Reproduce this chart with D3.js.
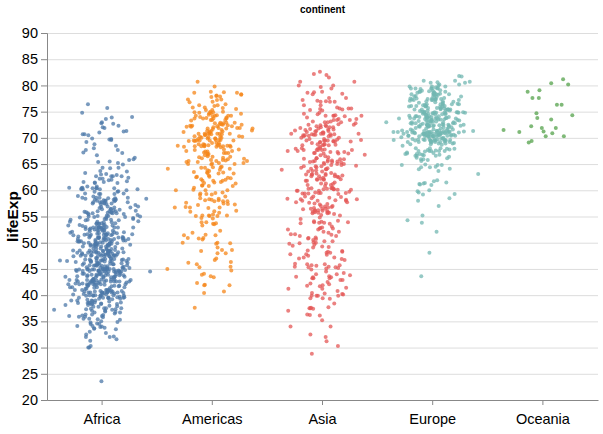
<!DOCTYPE html>
<html>
<head>
<meta charset="utf-8">
<script src="https://cdn.jsdelivr.net/npm/d3@7"></script>
<style>
  body { margin: 0; background: #fff; }
  svg { font-family: "Liberation Sans", Arial, Helvetica, sans-serif; }
</style>
</head>
<body>
<div id="chart"></div>
<script>
// life expectancy by continent (one value per country-year, 12 years per country)
const continents = ["Africa", "Americas", "Asia", "Europe", "Oceania"];
const yTicks = [20, 25, 30, 35, 40, 45, 50, 55, 60, 65, 70, 75, 80, 85, 90];

const africa = [
  43.1,45.7,48.3,51.4,54.5,58.0,61.4,65.8,67.7,69.2,71.0,72.3,
  30.0,32.0,34.0,36.0,37.9,39.5,39.9,39.9,40.6,41.0,41.0,42.7,
  38.2,40.4,42.6,44.9,47.0,49.2,50.9,52.3,53.9,54.8,54.4,56.7,
  47.6,49.6,51.5,53.3,56.0,59.3,61.5,63.6,62.7,52.6,46.6,50.7,
  32.0,34.9,37.8,40.7,43.6,46.1,48.1,49.6,50.3,50.3,50.7,52.3,
  39.0,40.5,42.0,43.5,44.1,45.9,47.5,48.2,44.7,45.3,47.4,49.6,
  38.5,40.4,42.6,44.8,47.0,49.4,53.0,55.0,54.3,52.2,49.9,50.4,
  35.5,37.5,39.5,41.5,43.5,46.8,48.3,50.5,49.4,46.1,43.3,44.7,
  38.1,39.9,41.7,43.6,45.6,47.4,49.5,51.1,51.7,51.6,50.5,50.7,
  40.7,42.5,44.5,46.5,48.9,50.9,52.9,54.9,57.9,60.7,63.0,65.2,
  39.1,40.7,42.1,44.1,45.9,47.8,47.8,47.4,45.5,42.6,45.0,46.5,
  42.1,45.1,48.4,50.3,53.0,55.6,57.5,57.5,56.4,53.0,53.0,55.3,
  40.5,42.5,44.9,47.4,49.8,52.4,54.0,54.7,52.0,48.0,46.8,48.3,
  34.8,37.3,39.7,42.1,44.4,46.5,48.8,50.0,51.6,53.2,53.4,54.8,
  41.9,44.4,47.0,49.3,51.1,53.3,56.0,59.8,63.7,67.2,69.8,71.3,
  34.5,36.0,37.5,39.0,40.5,42.0,43.7,45.7,47.5,48.2,49.3,51.6,
  35.9,38.0,40.2,42.2,44.5,44.5,43.9,46.5,50.0,53.4,55.2,58.0,
  34.1,36.7,40.1,42.1,43.5,44.5,44.9,46.7,48.1,49.4,50.7,52.9,
  37.0,39.0,40.5,44.6,48.7,52.8,56.6,60.2,61.4,60.5,56.8,56.7,
  30.0,32.1,33.9,35.9,38.3,41.8,45.6,49.3,52.6,55.9,58.0,59.4,
  43.1,44.8,46.5,48.1,49.9,51.8,53.7,55.7,57.5,58.6,58.5,60.0,
  33.6,34.6,35.8,37.2,38.8,40.8,42.9,45.2,48.6,51.5,53.7,56.0,
  32.5,33.5,34.5,35.5,36.5,37.5,39.3,41.2,43.3,44.9,45.5,46.4,
  42.3,44.7,47.9,50.7,53.6,56.2,58.8,59.3,59.3,54.4,51.0,54.1,
  42.1,45.0,47.7,48.5,49.8,52.5,55.1,57.2,59.7,55.6,44.6,42.6,
  38.5,39.5,40.5,41.5,42.6,43.8,44.9,46.0,40.8,42.2,43.8,45.7,
  42.7,45.3,48.4,50.2,52.8,57.4,62.2,66.2,68.8,70.5,72.7,74.0,
  36.7,38.9,40.8,42.9,44.9,46.9,48.9,50.9,52.9,55.0,57.3,59.4,
  36.3,37.2,38.4,39.5,41.8,43.8,45.6,47.5,49.4,47.5,45.0,48.3,
  33.7,35.3,36.9,38.5,40.0,41.7,43.9,46.4,48.4,49.9,51.8,54.5,
  40.5,42.3,44.2,46.3,48.4,50.9,53.6,56.1,58.3,60.4,62.2,64.2,
  51.0,58.1,60.2,61.6,62.9,64.9,66.7,68.0,69.7,70.7,72.0,72.8,
  42.9,45.4,47.9,50.3,52.9,55.7,59.7,62.7,65.4,67.7,69.6,71.2,
  31.3,33.8,36.2,38.1,40.3,42.5,42.8,42.9,44.3,46.3,44.0,42.1,
  41.7,45.2,48.4,51.2,53.9,56.3,58.6,60.4,62.0,58.9,51.5,52.9,
  37.4,38.6,39.5,40.1,40.5,41.3,42.6,44.6,47.4,51.3,54.5,56.9,
  36.3,37.8,39.4,41.0,42.8,44.5,45.8,46.9,47.5,47.5,46.6,46.9,
  52.7,55.8,57.7,60.5,64.3,67.1,69.9,71.9,73.6,74.8,75.7,76.4,
  40.0,41.5,43.0,44.1,44.6,45.0,46.2,44.0,23.6,36.1,43.4,46.2,
  46.5,48.9,51.9,54.4,56.5,58.6,60.4,61.7,62.7,63.3,64.3,65.5,
  37.3,39.3,41.5,43.6,44.6,48.9,52.4,55.8,58.2,60.2,61.6,63.1,
  30.3,31.6,32.8,34.1,35.4,36.8,38.4,40.0,38.3,39.9,41.0,42.6,
  33.0,35.0,37.0,39.0,41.0,42.0,43.0,44.5,39.7,43.8,45.9,48.2,
  45.0,48.0,50.0,51.9,53.7,55.5,58.2,60.7,61.9,60.2,53.4,49.3,
  38.6,39.6,40.9,42.9,45.0,47.8,50.3,52.0,53.6,55.4,56.4,58.6,
  41.4,43.4,45.0,46.6,49.6,52.5,55.6,57.7,58.5,54.3,43.9,39.6,
  41.2,43.0,44.2,45.8,47.6,49.9,51.0,51.5,50.4,48.5,49.7,52.5,
  38.6,40.8,43.9,46.8,49.8,52.9,54.9,56.9,58.1,58.4,57.6,58.4,
  44.6,47.1,49.6,52.1,55.1,57.7,62.7,65.9,68.5,70.7,73.0,73.9,
  40.0,42.6,45.3,48.1,51.0,50.4,49.8,51.5,48.8,44.6,47.8,51.5,
  42.0,44.1,46.0,47.8,50.1,51.4,51.8,50.8,46.1,40.2,39.2,42.4,
  48.5,50.5,52.4,54.0,55.6,57.7,60.4,62.4,60.4,46.8,40.0,43.5
];

const americas = [
  62.5,64.4,65.1,65.6,67.1,68.5,69.9,70.8,71.9,73.3,74.3,75.3,
  40.4,41.9,43.4,45.0,46.7,50.0,53.9,57.3,60.0,62.1,63.9,65.6,
  50.9,53.3,55.7,57.6,59.5,61.5,63.3,65.2,67.1,69.4,71.0,72.4,
  68.8,70.0,71.3,72.1,72.9,74.2,75.8,76.9,78.0,78.6,79.8,80.7,
  54.7,56.1,57.9,60.5,63.4,67.1,70.6,72.5,74.1,75.8,77.9,78.6,
  50.6,55.1,57.9,60.0,61.6,63.8,66.7,67.8,68.4,70.3,71.7,72.9,
  57.2,60.0,62.8,65.4,67.8,70.8,73.4,74.8,75.7,77.3,78.1,78.8,
  59.4,62.3,65.2,68.3,70.7,72.6,73.7,74.2,74.4,76.2,77.2,78.3,
  45.9,49.8,53.5,56.8,59.6,61.8,63.7,66.0,68.5,70.0,70.8,72.2,
  48.4,51.4,54.6,56.7,58.8,61.3,64.3,67.2,69.6,72.3,74.2,75.0,
  45.3,48.6,52.3,55.9,58.2,56.7,56.6,63.2,66.8,69.5,70.7,71.9,
  42.0,44.1,47.0,50.0,53.7,56.0,58.1,60.8,63.4,66.3,69.0,70.3,
  37.6,40.7,43.6,46.2,48.0,49.9,51.5,53.6,55.1,56.7,58.1,60.9,
  41.9,44.7,48.0,50.9,53.9,57.4,60.9,64.5,66.4,67.7,68.6,70.2,
  58.5,62.6,65.6,67.5,69.0,70.1,71.2,71.8,71.8,72.3,72.0,72.6,
  50.8,55.2,58.3,60.1,62.4,65.0,67.4,69.5,71.5,73.7,74.9,76.2,
  42.3,45.4,48.6,51.9,55.2,57.5,59.3,62.0,65.8,68.4,70.8,72.9,
  55.2,59.2,61.8,64.1,66.2,68.7,70.5,72.5,73.7,74.0,74.7,75.5,
  62.6,63.2,64.4,65.0,65.8,66.4,66.9,67.4,68.2,69.4,70.8,71.8,
  43.9,46.3,49.1,51.4,55.4,58.4,61.4,64.1,66.5,68.4,69.9,71.4,
  64.3,68.5,69.6,71.1,72.2,73.4,73.8,74.6,73.9,74.9,77.8,78.7,
  59.1,61.8,64.9,65.4,65.9,68.3,68.8,69.6,69.9,69.5,69.0,69.8,
  68.4,69.5,70.2,70.8,71.3,73.4,74.7,75.0,76.1,76.8,77.3,78.2,
  66.1,67.0,68.3,68.5,68.7,69.5,70.8,71.9,72.8,74.2,75.3,76.4,
  55.1,57.9,60.8,63.5,65.7,67.5,68.6,70.2,71.2,72.1,72.8,73.7
];

const asia = [
  28.8,30.3,32.0,34.0,36.1,38.4,39.9,40.8,41.7,41.8,42.1,43.8,
  50.9,53.8,56.9,59.9,63.3,65.6,69.1,70.8,72.6,73.9,74.8,75.6,
  37.5,39.3,41.2,43.5,45.3,46.9,50.0,52.8,56.0,59.4,62.0,64.1,
  39.4,41.4,43.4,45.4,40.3,31.2,51.0,53.9,55.8,56.5,56.8,59.7,
  44.0,50.5,44.5,58.4,63.1,64.0,65.5,67.3,68.7,70.4,72.0,73.0,
  61.0,64.8,67.7,70.0,72.0,73.6,75.5,76.2,77.6,80.0,81.5,82.2,
  37.4,40.2,43.6,47.2,50.7,54.2,56.6,58.6,60.2,61.8,62.9,64.7,
  37.5,39.9,42.5,46.0,49.2,52.7,56.2,60.1,62.7,66.0,68.6,70.7,
  44.9,47.2,49.3,52.5,55.2,57.7,59.6,63.0,65.7,68.0,69.5,71.0,
  45.3,48.4,51.5,54.5,57.0,60.4,62.0,65.0,59.5,58.8,57.0,59.5,
  65.4,67.8,69.4,70.8,71.6,73.1,74.5,75.6,76.9,78.3,79.7,80.7,
  63.0,65.5,68.7,71.4,73.4,75.4,77.1,78.7,79.4,80.7,82.0,82.6,
  43.2,45.7,48.1,51.6,56.5,61.0,63.7,65.9,68.0,69.8,71.3,72.5,
  50.1,54.1,56.7,59.9,64.0,67.0,68.3,69.6,70.0,67.7,66.7,67.3,
  47.5,52.7,55.3,57.7,62.6,64.8,67.1,69.8,72.2,74.6,77.0,78.6,
  55.6,58.0,60.5,64.6,67.7,69.3,71.3,74.2,75.2,76.2,76.9,77.6,
  55.9,59.5,62.1,63.9,65.4,66.1,67.1,69.3,69.3,70.3,71.0,72.0,
  48.5,52.1,55.7,59.4,63.0,65.3,68.0,69.5,70.7,71.9,73.0,74.2,
  42.2,45.2,48.3,51.3,53.8,55.5,57.5,60.2,61.3,63.6,65.0,66.8,
  36.3,41.9,45.1,49.4,53.1,56.1,58.0,58.3,59.3,60.3,59.9,62.1,
  36.2,37.7,39.4,41.2,44.0,46.7,49.6,52.5,55.7,59.4,61.3,63.8,
  37.6,40.1,43.2,47.0,52.1,57.4,62.7,67.7,71.2,72.5,74.2,75.6,
  43.4,45.6,47.7,49.8,51.9,54.0,56.2,58.2,60.2,61.8,63.6,65.5,
  47.8,51.3,54.8,56.4,58.1,60.1,62.1,64.2,66.5,68.6,70.3,71.7,
  39.9,42.9,45.9,49.9,53.9,58.7,63.0,66.3,68.8,70.5,71.6,72.8,
  60.4,63.2,65.8,67.9,69.5,70.8,71.8,73.6,75.8,77.2,78.8,80.0,
  57.6,61.5,62.2,64.3,65.0,65.9,68.8,69.0,70.4,70.5,70.8,72.4,
  45.9,48.3,50.3,53.7,57.3,61.2,64.6,67.0,69.2,71.5,73.1,74.1,
  58.5,62.4,65.2,67.5,69.4,70.6,72.2,73.4,74.3,75.3,76.9,78.4,
  50.8,53.6,56.1,58.3,60.4,62.5,64.6,66.1,67.3,67.5,68.6,70.6,
  40.4,42.9,45.4,47.8,50.3,55.8,58.8,62.8,67.7,70.7,73.0,74.2,
  43.2,45.7,48.1,51.6,56.5,60.8,64.4,67.0,69.7,71.1,72.4,73.4,
  32.5,34.0,35.2,37.0,39.9,44.2,49.1,52.9,55.6,58.0,60.3,62.7
];

const europe = [
  55.2,59.3,64.8,66.2,67.7,68.9,70.4,72.0,71.6,73.0,75.7,76.4,
  66.8,67.5,69.5,70.1,70.6,72.2,73.2,74.9,76.0,77.5,79.0,79.8,
  68.0,69.2,70.3,70.9,71.4,72.8,73.9,75.4,76.5,77.5,78.3,79.4,
  53.8,58.5,61.9,64.8,67.5,69.9,70.7,71.1,72.2,73.2,74.1,74.9,
  59.6,66.6,69.5,70.4,70.9,70.8,71.1,71.3,71.2,70.3,72.1,73.0,
  61.2,64.8,67.1,68.5,69.6,70.6,70.5,72.5,72.4,73.7,74.9,75.7,
  66.9,69.0,69.9,70.4,70.3,70.7,71.0,71.6,72.4,74.0,75.5,76.5,
  70.8,71.8,72.4,73.0,73.5,74.7,74.6,74.8,75.3,76.1,77.2,78.3,
  66.6,67.5,68.8,69.8,70.9,72.5,74.6,74.8,75.7,77.1,78.4,79.3,
  67.4,68.9,70.5,71.6,72.4,73.8,74.9,76.3,77.5,78.6,79.6,80.7,
  67.5,69.1,70.3,70.8,71.0,72.5,73.8,74.8,76.1,77.3,78.7,79.4,
  65.9,67.9,69.5,71.0,72.3,73.7,75.2,76.7,77.0,77.9,78.3,79.5,
  64.0,66.4,68.0,69.5,69.8,70.0,69.4,69.6,69.2,71.0,72.6,73.3,
  72.5,73.5,73.7,73.7,74.5,76.1,77.0,77.2,78.8,79.0,80.5,81.8,
  66.9,68.9,70.3,71.1,71.3,72.0,73.1,74.4,75.5,76.1,77.8,78.9,
  65.9,67.8,69.2,71.1,72.2,73.5,75.0,76.4,77.4,78.8,80.2,80.5,
  59.2,61.4,63.7,67.2,70.6,73.1,74.1,74.9,75.4,75.4,74.0,74.5,
  72.1,73.0,73.2,73.8,73.8,75.2,76.1,76.8,77.4,78.0,78.5,79.8,
  72.7,73.4,73.5,74.1,74.3,75.4,76.0,75.9,77.3,78.3,79.1,80.2,
  61.3,65.8,67.6,69.6,70.9,70.7,71.3,71.0,71.0,72.8,74.7,75.6,
  59.8,61.5,64.4,66.6,69.3,70.4,72.8,74.1,74.9,76.0,77.3,78.1,
  61.1,64.1,66.8,67.0,68.0,69.7,69.7,69.5,69.4,69.7,71.3,72.5,
  58.0,61.7,64.5,66.9,68.7,70.3,70.2,71.2,71.7,72.2,73.2,74.0,
  64.4,67.5,70.3,71.1,71.0,70.4,70.8,71.1,71.4,72.7,73.8,74.7,
  65.6,67.9,69.2,69.2,69.8,71.0,71.1,72.3,73.6,75.1,76.7,77.9,
  64.9,66.7,69.7,71.4,73.1,74.4,76.3,76.9,77.6,78.8,79.8,80.9,
  71.9,72.5,73.4,74.2,74.7,75.4,76.4,77.2,78.2,79.4,80.0,80.9,
  69.6,70.6,71.3,72.8,73.8,75.4,76.2,77.4,78.0,79.4,80.6,81.7,
  43.6,48.1,52.1,54.3,57.0,60.0,61.0,63.1,66.1,68.8,70.8,71.8,
  69.2,70.4,70.8,71.4,72.0,72.8,74.0,75.0,76.4,77.2,78.5,79.4
];

const oceania = [
  69.1,70.3,70.9,71.1,71.9,73.5,74.7,76.3,77.6,78.8,80.4,81.2,
  69.4,70.3,71.2,71.5,71.9,72.2,73.8,74.3,76.3,77.6,79.1,80.2
];

const seriesValues = [africa, americas, asia, europe, oceania];
const colors = ["#4c78a8", "#f58518", "#e45756", "#72b7b2", "#54a24b"];

const width = 603, height = 434;
const margin = { top: 33, right: 5, bottom: 34, left: 47 };

const data = [];
continents.forEach((c, ci) => {
  seriesValues[ci].forEach((v) => data.push({ continent: c, lifeExp: v }));
});

// deterministic jitter (Halton + Box-Muller) so the layout is stable
function halton(i, b) {
  let f = 1, r = 0;
  while (i > 0) { f /= b; r += f * (i % b); i = Math.floor(i / b); }
  return r;
}
data.forEach((d, i) => {
  const u1 = halton(i + 1, 2) * 0.999 + 0.0005, u2 = halton(i + 1, 3);
  const z = Math.sqrt(-2 * Math.log(u1)) * Math.cos(2 * Math.PI * u2);
  d.jitter = Math.max(-3.2, Math.min(3.2, z));
});

const x = d3.scaleBand()
  .domain(continents)
  .range([margin.left, width - margin.right]);

const y = d3.scaleLinear()
  .domain([20, 90])
  .range([height - margin.bottom, margin.top]);

const color = d3.scaleOrdinal().domain(continents).range(colors);

const svg = d3.select("#chart").append("svg")
  .attr("width", width).attr("height", height);

// grid
svg.append("g")
  .selectAll("line")
  .data(yTicks)
  .join("line")
  .attr("x1", margin.left).attr("x2", width - margin.right)
  .attr("y1", (d) => y(d) + 0.5).attr("y2", (d) => y(d) + 0.5)
  .attr("stroke", "#ddd");

// points
svg.append("g")
  .selectAll("circle")
  .data(data)
  .join("circle")
  .attr("cx", (d) => x(d.continent) + x.bandwidth() / 2 + d.jitter * 15)
  .attr("cy", (d) => y(d.lifeExp))
  .attr("r", 2)
  .attr("fill", (d) => color(d.continent))
  .attr("fill-opacity", 0.75);

// y axis
const yAxis = svg.append("g")
  .attr("transform", `translate(${margin.left},0)`)
  .call(d3.axisLeft(y).tickValues(yTicks).tickSize(6).tickPadding(3));
yAxis.select(".domain").attr("stroke", "#888");
yAxis.selectAll(".tick line").attr("stroke", "#888");
yAxis.selectAll(".tick text").attr("fill", "#000").style("font-size", "14.5px");

// x axis
const xAxis = svg.append("g")
  .attr("transform", `translate(0,${height - margin.bottom})`)
  .call(d3.axisBottom(x).tickSize(5).tickPadding(9).tickSizeOuter(0));
xAxis.select(".domain").attr("stroke", "#888");
xAxis.selectAll(".tick line").attr("stroke", "#888");
xAxis.selectAll(".tick text").attr("fill", "#000").style("font-size", "14.5px");

// titles
svg.append("text")
  .attr("x", (margin.left + width - margin.right) / 2)
  .attr("y", 13)
  .attr("text-anchor", "middle")
  .style("font-size", "10px")
  .style("font-weight", "bold")
  .text("continent");

svg.append("text")
  .attr("transform", `translate(18,${(margin.top + height - margin.bottom) / 2}) rotate(-90)`)
  .attr("text-anchor", "middle")
  .style("font-size", "15.5px")
  .style("font-weight", "bold")
  .text("lifeExp");
</script>
</body>
</html>
